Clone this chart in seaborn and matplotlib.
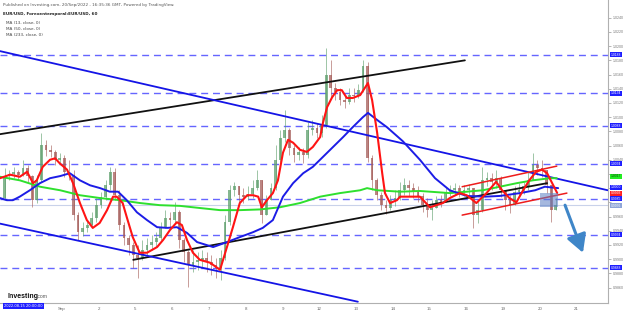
import numpy as np
import matplotlib
matplotlib.use("Agg")
import matplotlib.pyplot as plt
import seaborn as sns
from matplotlib.patches import Rectangle

sns.set_theme(style="white")
plt.rcParams['font.family'] = ['DejaVu Sans']

# ---------------- data (3-hour bars, EUR/USD) ----------------
first_open = 0.9986
closes = [1.0017,1.0020,1.0023,1.0019,1.0028,1.0017,0.9983,1.0011,1.0061,1.0054,
          1.0051,1.0040,1.0042,1.0023,1.0019,0.9962,0.9938,0.9944,0.9948,0.9958,
          0.9976,0.9988,1.0004,1.0023,0.9990,0.9948,0.9930,0.9920,0.9906,0.9902,
          0.9913,0.9920,0.9924,0.9930,0.9944,0.9958,0.9955,0.9966,0.9927,0.9910,
          0.9892,0.9896,0.9899,0.9902,0.9896,0.9892,0.9888,0.9902,0.9952,0.9997,
          1.0003,0.9990,0.9988,0.9992,1.0000,1.0011,0.9962,0.9983,1.0000,1.0040,
          1.0071,1.0082,1.0057,1.0047,1.0051,1.0047,1.0082,1.0085,1.0078,1.0089,
          1.0159,1.0141,1.0135,1.0124,1.0121,1.0131,1.0130,1.0138,1.0172,1.0042,
          1.0011,0.9990,0.9976,0.9972,0.9983,0.9986,0.9997,1.0004,1.0000,0.9995,
          0.9989,0.9976,0.9969,0.9972,0.9983,0.9980,0.9995,0.9997,1.0000,0.9995,
          0.9997,1.0000,0.9962,0.9969,1.0011,1.0014,1.0009,1.0014,0.9997,0.9983,
          0.9976,0.9995,0.9997,1.0003,1.0011,1.0033,1.0028,1.0026,1.0004,0.9969,
          0.9976]
highs = [1.0028,1.0026,1.0030,1.0026,1.0040,1.0033,1.0019,1.0019,1.0078,1.0068,
         1.0061,1.0054,1.0050,1.0047,1.0040,1.0026,0.9966,0.9952,0.9955,0.9966,
         0.9986,0.9995,1.0011,1.0030,1.0028,0.9997,0.9952,0.9934,0.9924,0.9920,
         0.9927,0.9930,0.9934,0.9938,0.9952,0.9969,0.9966,0.9980,0.9969,0.9930,
         0.9913,0.9913,0.9910,0.9913,0.9910,0.9906,0.9902,0.9913,0.9962,1.0004,
         1.0009,1.0003,1.0000,1.0003,1.0011,1.0026,1.0011,0.9990,1.0007,1.0061,
         1.0082,1.0110,1.0085,1.0061,1.0058,1.0057,1.0093,1.0096,1.0092,1.0103,
         1.0197,1.0180,1.0148,1.0141,1.0131,1.0141,1.0141,1.0147,1.0180,1.0178,
         1.0047,1.0014,0.9995,0.9983,0.9990,0.9997,1.0009,1.0014,1.0011,1.0007,
         1.0003,0.9993,0.9986,0.9983,0.9989,0.9990,1.0002,1.0004,1.0007,1.0004,
         1.0004,1.0006,1.0000,0.9983,1.0030,1.0023,1.0021,1.0026,1.0017,0.9997,
         0.9990,1.0003,1.0007,1.0009,1.0023,1.0050,1.0040,1.0040,1.0026,0.9997,
         0.9986]
lows = [0.9983,1.0011,1.0014,1.0011,1.0017,1.0009,0.9973,0.9979,1.0009,1.0045,
        1.0044,1.0033,1.0035,1.0016,1.0011,0.9955,0.9927,0.9933,0.9938,0.9944,
        0.9952,0.9972,0.9983,0.9997,0.9983,0.9941,0.9920,0.9906,0.9888,0.9874,
        0.9899,0.9906,0.9913,0.9917,0.9927,0.9947,0.9944,0.9950,0.9916,0.9896,
        0.9861,0.9882,0.9885,0.9888,0.9882,0.9878,0.9874,0.9871,0.9899,0.9948,
        0.9989,0.9980,0.9979,0.9983,0.9986,0.9997,0.9951,0.9969,0.9989,0.9997,
        1.0037,1.0065,1.0047,1.0037,1.0040,1.0035,1.0042,1.0075,1.0071,1.0072,
        1.0085,1.0127,1.0124,1.0117,1.0113,1.0119,1.0121,1.0127,1.0135,1.0037,
        0.9997,0.9983,0.9969,0.9963,0.9969,0.9975,0.9983,0.9990,0.9989,0.9986,
        0.9980,0.9966,0.9959,0.9955,0.9973,0.9973,0.9983,0.9989,0.9990,0.9988,
        0.9989,0.9990,0.9944,0.9951,0.9966,1.0003,0.9997,1.0000,0.9988,0.9969,
        0.9965,0.9983,0.9989,0.9992,0.9997,1.0017,1.0019,1.0016,0.9993,0.9952,
        0.9972]

# moving averages (bar position, price)
ma13_x = [-1,1.2,3.3,4.9,6.2,7.0,8.3,9.9,11.0,12.0,13.6,14.9,16.4,17.9,19.2,20.7,22.3,23.6,24.4,25.7,
          26.6,27.9,29.4,31.0,33.2,34.5,36.0,37.5,38.6,39.7,41.0,42.5,44.7,46.9,48.4,49.7,51.2,52.8,54.1,55.2,
          56.0,57.1,58.4,59.5,60.6,61.7,62.8,64.3,65.8,67.1,68.7,69.3,70.2,71.3,72.4,73.4,74.5,75.8,77.4,78.5,
          79.1,80.0,81.1,82.2,82.8,83.9,85.4,86.1,90.4,92.6,95.4,96.9,99.1,100.6,102.7,104.9,107.0,108.3,109.9,111.4,
          112.7,114.2,115.7,117.0,118.1,119.2,120.3]
ma13_y = [1.0014,1.0019,1.0016,1.0023,1.0007,1.0011,1.0030,1.0040,1.0042,1.0035,1.0026,1.0007,0.9979,0.9955,0.9944,0.9951,0.9969,0.9988,0.9988,0.9979,
          0.9959,0.9931,0.9909,0.9909,0.9917,0.9927,0.9941,0.9952,0.9948,0.9927,0.9909,0.9899,0.9895,0.9885,0.9917,0.9945,0.9979,0.9990,0.9990,0.9988,
          0.9973,0.9983,0.9993,1.0011,1.0050,1.0068,1.0064,1.0054,1.0051,1.0058,1.0072,1.0092,1.0114,1.0128,1.0138,1.0138,1.0127,1.0127,1.0131,1.0142,
          1.0148,1.0124,1.0078,1.0021,0.9993,0.9979,0.9983,0.9988,0.9988,0.9973,0.9979,0.9986,0.9993,0.9990,0.9979,0.9993,1.0009,0.9997,0.9986,0.9980,
          0.9995,1.0011,1.0023,1.0026,1.0021,1.0007,0.9993]
ma50_x = [-1,0.5,1.8,3.3,5.5,7.7,9.9,12.1,14.2,16.4,18.6,20.8,22.9,24.7,26.6,28.8,31.0,33.2,35.4,37.5,
          39.7,41.9,45.4,48.4,51.2,54.1,56.2,58.4,60.6,62.8,65.0,67.1,69.3,71.5,73.7,75.8,78.0,79.1,81.1,83.2,
          86.7,90.4,93.7,96.9,100.6,104.6,107.8,112.2,115.5,117.6,120.5]
ma50_y = [0.9986,0.9983,0.9983,0.9988,0.9997,1.0007,1.0014,1.0017,1.0021,1.0011,1.0004,1.0000,0.9995,0.9995,0.9983,0.9966,0.9955,0.9945,0.9944,0.9945,
          0.9937,0.9924,0.9917,0.9924,0.9931,0.9938,0.9944,0.9955,0.9988,1.0007,1.0021,1.0030,1.0044,1.0058,1.0072,1.0086,1.0100,1.0106,1.0096,1.0086,
          1.0066,1.0040,1.0014,0.9997,0.9989,0.9988,0.9989,0.9993,0.9997,1.0002,1.0000]
ma233_x = [-1,3.3,7.7,12.1,16.4,20.8,25.1,29.5,33.8,38.2,42.5,46.9,51.2,55.6,59.9,64.3,68.7,73.0,77.4,78.9,
           81.1,86.1,90.4,96.9,100.6,104.1,107.8,111.5,115.0,118.7,120.2]
ma233_y = [1.0016,1.0011,1.0002,0.9997,0.9990,0.9986,0.9983,0.9979,0.9976,0.9975,0.9972,0.9969,0.9969,0.9970,0.9973,0.9979,0.9988,0.9993,0.9997,1.0000,
           0.9997,0.9995,0.9996,0.9993,0.9995,0.9997,1.0002,1.0007,1.0011,1.0014,1.0014]

# hand-drawn trend lines (start bar, start price, end bar, end price)
black_lines = [(-1, 1.0076, 100.2, 1.0180), (28.0, 0.9899, 118.1, 1.0007)]
blue_lines = [(-1, 1.0193, 131.3, 0.9997), (-1, 0.9950, 76.9, 0.9840)]
red_lines = [(99.6, 1.0002, 120.2, 1.0031), (99.6, 0.9962, 122.4, 0.9993)]
levels = [1.0188, 1.0134, 1.0088, 1.0034, 0.9985, 0.9934, 0.9888]
box = (116.5, 0.9973, 120.5, 0.9993)
arrow = (122.0, 0.9976, 125.9, 0.9909)

day_labels = ['Sep', '2', '5', '6', '7', '8', '9', '12', '13', '14', '15', '16', '19', '20', '21']
yticks = [0.9860 + 0.0020 * k for k in range(20)]

# ---------------- figure ----------------
W, H = 625, 311
fig = plt.figure(figsize=(W / 100, H / 100), dpi=100)
fig.patch.set_facecolor('white')
ax = fig.add_axes([0, 8 / H, 608 / W, 303 / H])
ax.set_facecolor('white')
ax.set_xlim(-1, 131.35)
ax.set_ylim(0.98382, 1.0265)

small = ['Liberation Sans', 'DejaVu Sans']

# horizontal levels
for p in levels:
    ax.axhline(p, color='#4a4aff', lw=1.0, ls=(0, (5, 3.5)), alpha=0.85, zorder=1)
ax.axhline(closes[-1], color='#c9d2ea', lw=0.8, zorder=1)

# candles
c = np.array(closes)
o = np.array([first_open] + closes[:-1])
hi = np.maximum(np.array(highs), np.maximum(o, c))
lo = np.minimum(np.array(lows), np.minimum(o, c))
bars = np.arange(len(c))
up = c >= o
col = np.where(up, '#5e9f6c', '#a45c58')
ax.vlines(bars, lo, hi, colors=col, lw=0.6, alpha=0.7, zorder=2)
ax.bar(bars, np.maximum(np.abs(c - o), 0.00006), bottom=np.minimum(o, c), width=0.6,
       color=col, linewidth=0, alpha=0.75, zorder=3)

# trend lines
for (x0, y0, x1, y1) in black_lines:
    ax.plot([x0, x1], [y0, y1], color='#111111', lw=1.3, zorder=4)
for (x0, y0, x1, y1) in blue_lines:
    ax.plot([x0, x1], [y0, y1], color='#1414e6', lw=1.3, zorder=4)
for (x0, y0, x1, y1) in red_lines:
    ax.plot([x0, x1], [y0, y1], color='#ee1c1c', lw=1.1, zorder=4)

# moving averages
sns.lineplot(x=ma233_x, y=ma233_y, ax=ax, color='#2ee02e', lw=1.4, sort=False, estimator=None, zorder=5)
sns.lineplot(x=ma50_x, y=ma50_y, ax=ax, color='#1c1ce6', lw=1.4, sort=False, estimator=None, zorder=5)
sns.lineplot(x=ma13_x, y=ma13_y, ax=ax, color='#ff1414', lw=1.5, sort=False, estimator=None, zorder=6)

# box and arrow
ax.add_patch(Rectangle((box[0], box[1]), box[2] - box[0], box[3] - box[1],
                       fc='#5b7fc4', ec='none', alpha=0.55, zorder=7))
ax.annotate('', xy=(arrow[2], arrow[3]), xytext=(arrow[0], arrow[1]),
            arrowprops=dict(arrowstyle='-|>,head_length=0.9,head_width=0.5', color='#3f86c8',
                            lw=2.2, shrinkA=0, shrinkB=0), zorder=8)

# price tags (values of the levels / lines at the last bar)
tags = [(p, '#1f1fff', 'white', p) for p in levels]
tags += [(ma233_y[-1] + 0.0003, '#22ee22', '#114411', ma233_y[-1] + 0.0003),
         (ma50_y[-1] + 0.0001, '#1f1fff', 'white', ma50_y[-1]),
         (ma13_y[-1], '#ff2020', 'white', ma13_y[-1]),
         (closes[-1] - 0.0001, '#8fa6d8', 'white', closes[-1])]

# axes styling
for s in ['top', 'left']:
    ax.spines[s].set_visible(False)
for s in ['right', 'bottom']:
    ax.spines[s].set_color('#b0b0b0')
    ax.spines[s].set_linewidth(0.8)
ax.yaxis.tick_right()
ax.set_yticks(yticks)
# tick labels hidden behind a price tag are not shown (as on the chart)
ylabels = [('' if any(abs(v - t[0]) < 0.00055 for t in tags) else f'{v:.4f}') for v in yticks]
ax.set_yticklabels(ylabels, family=small)
ax.tick_params(axis='y', labelsize=2.6, labelcolor='#777777', color='#999999', length=2, width=0.5, pad=1.2)
ax.set_xticks([12.5 + 8 * k for k in range(len(day_labels))])
ax.set_xticklabels(day_labels, family=small)
ax.tick_params(axis='x', labelsize=3.2, labelcolor='#666666', color='#999999', length=2, width=0.5, pad=1)
ax.set_xlabel('')
ax.set_ylabel('')

for (p, fc, tc, shown) in tags:
    ax.text(1.0045, p, f'{shown:.4f}', transform=ax.get_yaxis_transform(),
            fontsize=2.4, color=tc, family=small, va='center', ha='left', clip_on=False, zorder=10,
            bbox=dict(boxstyle='square,pad=0.15', fc=fc, ec='none'))

# header texts
def ftext(x, y, s, **kw):
    fig.text(x / W, 1 - y / H, s, va='center', ha='left', **kw)

ftext(3, 5, 'Published on Investing.com, 20/Sep/2022 - 16:35:36 GMT, Powered by TradingView.',
      fontsize=3, color='#555555')
ftext(3, 14, 'EUR/USD, Forexentemporal:EUR/USD, 60', fontsize=3, color='#222222', fontweight='bold')
ftext(6, 23, 'MA (13, close, 0)', fontsize=3, color='#444444')
ftext(6, 29, 'MA (50, close, 0)', fontsize=3, color='#444444')
ftext(6, 35, 'MA (233, close, 0)', fontsize=3, color='#444444')

# logo
fig.text(7 / W, 1 - 296 / H, 'Investing', fontsize=5, fontweight='bold', color='#111111',
         family=small, va='center', ha='left')
fig.text(37 / W, 1 - 297 / H, '.com', fontsize=3.6, color='#555555',
         family=small, va='center', ha='left')

# bottom-left time tag
fig.text(4 / W, 1 - 306 / H, '2022-08-15 20:00:00', fontsize=2.6, color='white', va='center', ha='left',
         bbox=dict(boxstyle='square,pad=0.35', fc='#1f1fff', ec='none'))

fig.savefig('out.png', dpi=100, facecolor='white')
